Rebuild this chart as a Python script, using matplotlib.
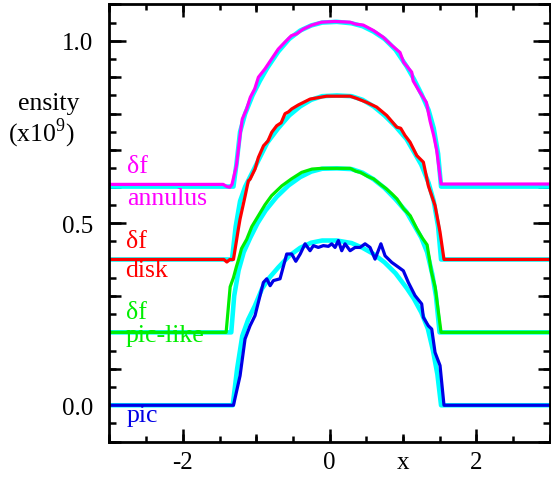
import numpy as np
import matplotlib.pyplot as plt
from matplotlib.ticker import FixedLocator, MultipleLocator, FormatStrFormatter

plt.rcParams['font.family'] = ['Liberation Serif', 'DejaVu Serif']
plt.rcParams['mathtext.fontset'] = 'custom'
plt.rcParams['mathtext.rm'] = 'Liberation Serif'
plt.rcParams['axes.unicode_minus'] = False

# delta-f annulus (magenta)
ann_x = [-3.0, -1.45, -1.40, -1.36, -1.33, -1.27, -1.22, -1.19, -1.13, -1.08, -1.02, -0.97,
         -0.88, -0.79, -0.70, -0.61, -0.52, -0.45, -0.36, -0.24, -0.11, 0.07, 0.28, 0.35,
         0.46, 0.60, 0.73, 0.85, 0.96, 1.01, 1.12, 1.14, 1.23, 1.32, 1.37, 1.42, 1.46, 1.52, 3.0]
ann_y = [0.606, 0.606, 0.600, 0.598, 0.606, 0.657, 0.740, 0.785, 0.813, 0.845, 0.868, 0.900,
         0.923, 0.950, 0.977, 0.996, 1.014, 1.019, 1.032, 1.043, 1.051, 1.053, 1.051, 1.046,
         1.043, 1.028, 1.010, 0.987, 0.968, 0.941, 0.914, 0.890, 0.859, 0.831, 0.780, 0.740,
         0.700, 0.607, 0.607]

# delta-f disk (red)
disk_x = [-3.0, -1.44, -1.40, -1.36, -1.31, -1.243, -1.22, -1.15, -1.107, -1.084, -1.016, -0.97,
          -0.90, -0.84, -0.788, -0.72, -0.66, -0.607, -0.56, -0.516, -0.425, -0.266, -0.04, 0.28,
          0.37, 0.507, 0.643, 0.78, 0.916, 0.97, 1.029, 1.097, 1.189, 1.279, 1.347, 1.438, 1.506,
          1.56, 3.0]
disk_y = [0.400, 0.400, 0.393, 0.400, 0.400, 0.484, 0.511, 0.575, 0.616, 0.620, 0.648, 0.680,
          0.712, 0.725, 0.749, 0.767, 0.775, 0.800, 0.805, 0.813, 0.824, 0.840, 0.848, 0.848,
          0.842, 0.831, 0.818, 0.795, 0.763, 0.760, 0.740, 0.722, 0.685, 0.667, 0.602, 0.548,
          0.475, 0.400, 0.400]

# delta-f pic-like (green)
like_x = [-3.0, -1.41, -1.355, -1.31, -1.27, -1.24, -1.20, -1.13, -1.06, -0.97, -0.88, -0.79,
          -0.65, -0.52, -0.38, -0.24, -0.11, 0.28, 0.36, 0.42, 0.52, 0.60, 0.70, 0.78, 0.85,
          0.92, 1.01, 1.10, 1.19, 1.26, 1.33, 1.39, 1.44, 1.52, 3.0]
like_y = [0.200, 0.200, 0.325, 0.350, 0.380, 0.400, 0.430, 0.455, 0.490, 0.520, 0.550, 0.575,
          0.602, 0.621, 0.639, 0.648, 0.650, 0.650, 0.642, 0.639, 0.628, 0.621, 0.605, 0.593,
          0.580, 0.566, 0.539, 0.520, 0.484, 0.460, 0.440, 0.365, 0.324, 0.200, 0.200]

# pic (blue)
pic_x = [-3.0, -1.31, -1.22, -1.152, -1.084, -1.016, -0.97, -0.902, -0.856, -0.81, -0.766,
         -0.675, -0.584, -0.516, -0.46, -0.40, -0.334, -0.266, -0.22, -0.153, -0.085, -0.016,
         0.03, 0.075, 0.12, 0.166, 0.211, 0.28, 0.348, 0.416, 0.484, 0.552, 0.62, 0.70, 0.757,
         0.848, 0.938, 1.006, 1.074, 1.165, 1.256, 1.279, 1.347, 1.393, 1.438, 1.506, 1.56, 3.0]
pic_y = [0.000, 0.000, 0.081, 0.182, 0.218, 0.246, 0.283, 0.337, 0.347, 0.328, 0.342,
         0.347, 0.415, 0.415, 0.395, 0.415, 0.443, 0.424, 0.438, 0.433, 0.438, 0.436,
         0.443, 0.433, 0.452, 0.424, 0.443, 0.424, 0.433, 0.433, 0.443, 0.433, 0.401, 0.443,
         0.410, 0.392, 0.379, 0.369, 0.337, 0.301, 0.278, 0.241, 0.218, 0.209, 0.145, 0.109,
         0.000, 0.000]

# smooth reference curves drawn underneath (cyan)
ref_ann_x = [-3.0, -1.31, -1.27, -1.22, -1.15, -1.05, -0.95, -0.85, -0.70, -0.55, -0.40, -0.25,
             -0.10, 0.10, 0.30, 0.45, 0.60, 0.75, 0.90, 1.05, 1.15, 1.25, 1.35, 1.42, 1.48, 1.52, 3.0]
ref_ann_y = [0.600, 0.600, 0.660, 0.750, 0.800, 0.850, 0.890, 0.925, 0.970, 1.005, 1.028, 1.042,
             1.050, 1.052, 1.048, 1.040, 1.025, 1.005, 0.975, 0.930, 0.895, 0.855, 0.810, 0.760,
             0.690, 0.600, 0.600]
ref_disk_x = [-3.0, -1.33, -1.28, -1.22, -1.15, -1.05, -0.95, -0.85, -0.70, -0.55, -0.40, -0.25,
              -0.10, 0.10, 0.30, 0.45, 0.60, 0.75, 0.90, 1.05, 1.15, 1.25, 1.35, 1.42, 1.48, 1.52, 3.0]
ref_disk_y = [0.400, 0.400, 0.490, 0.560, 0.600, 0.640, 0.680, 0.720, 0.760, 0.795, 0.820, 0.838,
              0.848, 0.850, 0.848, 0.838, 0.820, 0.795, 0.765, 0.730, 0.695, 0.660, 0.610, 0.560,
              0.490, 0.400, 0.400]
ref_like_x = [-3.0, -1.34, -1.30, -1.24, -1.17, -1.08, -0.98, -0.87, -0.72, -0.56, -0.40, -0.25,
              -0.10, 0.10, 0.30, 0.45, 0.60, 0.75, 0.90, 1.05, 1.15, 1.25, 1.33, 1.40, 1.45, 1.50, 3.0]
ref_like_y = [0.200, 0.200, 0.300, 0.370, 0.420, 0.460, 0.500, 0.535, 0.572, 0.603, 0.626, 0.641,
              0.649, 0.650, 0.648, 0.638, 0.620, 0.596, 0.565, 0.530, 0.495, 0.460, 0.420, 0.360,
              0.300, 0.200, 0.200]
ref_pic_x = [-3.0, -1.32, -1.26, -1.19, -1.11, -1.02, -0.92, -0.82, -0.70, -0.55, -0.40, -0.25,
             -0.10, 0.10, 0.30, 0.45, 0.60, 0.75, 0.90, 1.05, 1.15, 1.25, 1.34, 1.41, 1.47, 1.52, 3.0]
ref_pic_y = [0.000, 0.000, 0.100, 0.190, 0.235, 0.272, 0.320, 0.350, 0.378, 0.410, 0.432, 0.446,
             0.452, 0.452, 0.445, 0.432, 0.415, 0.392, 0.362, 0.322, 0.292, 0.255, 0.210, 0.150,
             0.085, 0.000, 0.000]

x_labels = ['', '', '', '', 'x', '', '']


def main():
    fig = plt.figure(figsize=(5.51, 4.85), dpi=100)
    ax = fig.add_axes([0.1987, 0.0872, 0.7988, 0.9018])

    # cyan references first, then the coloured runs on top
    refs = [(ref_ann_x, ref_ann_y), (ref_disk_x, ref_disk_y),
            (ref_like_x, ref_like_y), (ref_pic_x, ref_pic_y)]
    for rx, ry in refs:
        ax.plot(rx, ry, color='#00FFFF', lw=3.3)
    ax.plot(ann_x, ann_y, color='#FF00FF', lw=2.3)
    ax.plot(disk_x, disk_y, color='#FF0000', lw=2.3)
    ax.plot(like_x, like_y, color='#00EE00', lw=2.3)
    ax.plot(pic_x, pic_y, color='#0000E6', lw=2.3)

    # curve labels
    fs = 18.5
    ax.text(-2.76, 0.639, 'δf', color='#FF00FF', fontsize=fs, va='baseline')
    ax.text(-2.76, 0.552, 'annulus', color='#FF00FF', fontsize=fs, va='baseline')
    ax.text(-2.78, 0.433, 'δf', color='#FF0000', fontsize=fs, va='baseline')
    ax.text(-2.78, 0.354, 'disk', color='#FF0000', fontsize=fs, va='baseline')
    ax.text(-2.78, 0.239, 'δf', color='#00EE00', fontsize=fs, va='baseline')
    ax.text(-2.78, 0.176, 'pic-like', color='#00EE00', fontsize=fs, va='baseline')
    ax.text(-2.76, -0.042, 'pic', color='#0000E6', fontsize=fs, va='baseline')

    ax.set_xlim(-3, 3)
    ax.set_ylim(-0.1, 1.1)

    for s in ax.spines.values():
        s.set_linewidth(2.0)

    # long and short ticks on the main axes
    ax.xaxis.set_major_locator(FixedLocator([-2, 0, 2]))
    ax.xaxis.set_minor_locator(MultipleLocator(0.5))
    ax.yaxis.set_major_locator(FixedLocator([0.0, 0.5, 1.0]))
    ax.yaxis.set_major_formatter(FormatStrFormatter('%.1f'))
    ax.yaxis.set_minor_locator(MultipleLocator(0.05))
    ax.tick_params(axis='x', which='major', direction='in', length=9.5, width=1.8,
                   top=True, labelsize=18, pad=7)
    ax.tick_params(axis='x', which='minor', direction='in', length=4, width=1.8, top=True)
    ax.tick_params(axis='y', which='major', direction='in', length=12, width=1.8,
                   right=True, labelsize=18, pad=11.5)
    ax.tick_params(axis='y', which='minor', direction='in', length=5, width=1.8, right=True)

    # medium ticks via secondary axes
    for loc in ['bottom', 'top']:
        sec = ax.secondary_xaxis(loc)
        sec.set_xticks(np.arange(-3, 4), labels=x_labels if loc == 'bottom' else [''] * 7)
        sec.tick_params(direction='in', length=6, width=1.8, labelsize=18, pad=7)
        sec.spines[loc].set_visible(False)
    for loc in ['left', 'right']:
        sec = ax.secondary_yaxis(loc)
        sec.set_yticks(np.arange(-0.1, 1.11, 0.1), labels=[''] * 13)
        sec.tick_params(direction='in', length=8.5, width=1.8)
        sec.spines[loc].set_visible(False)

    # cropped y label
    fig.text(18.3 / 551, 1 - 110 / 485, 'ensity', fontsize=18.5, va='baseline', ha='left')
    fig.text(8.3 / 551, 1 - 141.7 / 485, r'(x10$^{\mathrm{9}}$)', fontsize=18.5,
             va='baseline', ha='left')

    fig.savefig('out.png', dpi=100)


if __name__ == '__main__':
    main()
